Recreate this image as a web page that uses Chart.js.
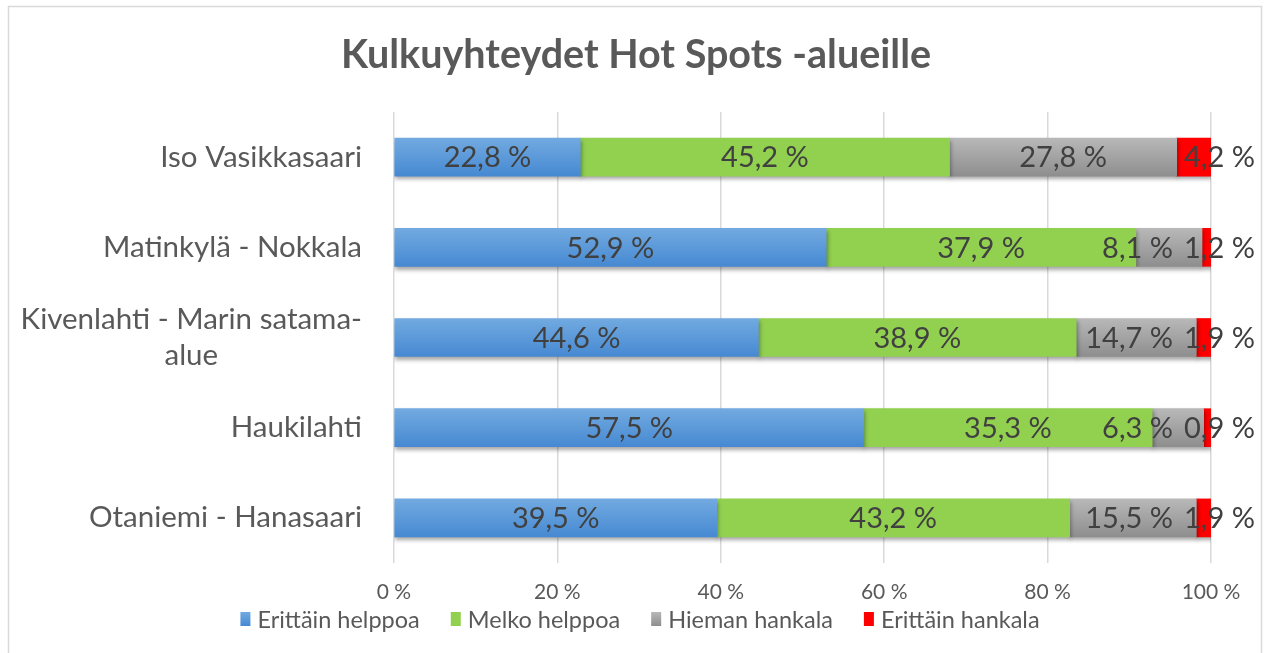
<!DOCTYPE html>
<html>
<head>
<meta charset="utf-8">
<script src="https://cdn.jsdelivr.net/npm/chart.js@4"></script>
<style>
  body { margin: 0; background: #fff; }
  #wrap { width: 1264px; height: 653px; position: relative; }
</style>
</head>
<body>
<div id="wrap"><canvas id="myChart"></canvas></div>
<script>
// data
var categories = ['Iso Vasikkasaari', 'Matinkylä - Nokkala', ['Kivenlahti - Marin satama-', 'alue'], 'Haukilahti', 'Otaniemi - Hanasaari'];
var seriesNames = ['Erittäin helppoa', 'Melko helppoa', 'Hieman hankala', 'Erittäin hankala'];
var erittainHelppoa = [22.8, 52.9, 44.6, 57.5, 39.5];
var melkoHelppoa = [45.2, 37.9, 38.9, 35.3, 43.2];
var hiemanHankala = [27.8, 8.1, 14.7, 6.3, 15.5];
var erittainHankala = [4.2, 1.2, 1.9, 0.9, 1.9];
var xTicks = [0, 20, 40, 60, 80, 100];

var FONT = 'Lato, "Open Sans", sans-serif';
var BAR = 38;

// vertical gradient per bar (blue and grey bars are shaded)
function gradFill(top, bottom) {
  return function(c) {
    var chart = c.chart;
    if (!chart.chartArea || c.type !== 'data') return bottom;
    var y = chart.scales.y.getPixelForValue(c.dataIndex);
    var g = chart.ctx.createLinearGradient(0, y - BAR / 2, 0, y + BAR / 2);
    g.addColorStop(0, top);
    g.addColorStop(1, bottom);
    return g;
  };
}

var colors = [
  ['#72aae0', '#4689d2'],
  ['#92d050', '#92d050'],
  ['#b8b8b8', '#8e8e8e'],
  ['#ff0000', '#ff0000']
];

function fmt(v) {
  return v.toFixed(1).replace('.', ',') + ' %';
}

// border, shadows, value labels, category labels, legend
var decorations = {
  id: 'decorations',
  beforeDraw: function(chart) {
    var ctx = chart.ctx;
    ctx.save();
    ctx.strokeStyle = '#d9d9d9';
    ctx.lineWidth = 1.5;
    ctx.strokeRect(8.5, 6.5, 1253, 700);
    ctx.restore();
  },
  beforeDatasetsDraw: function(chart) {
    var ctx = chart.ctx;
    ctx.save();
    ctx.shadowColor = 'rgba(0,0,0,0.35)';
    ctx.shadowBlur = 4;
    ctx.shadowOffsetX = 1;
    ctx.shadowOffsetY = 3;
  },
  afterDatasetsDraw: function(chart) {
    var ctx = chart.ctx;
    ctx.restore();

    // values in each segment; the small end ones sit past the bar end
    // and the neighbours move left so they do not overlap
    ctx.save();
    ctx.font = '29px ' + FONT;
    ctx.fillStyle = '#404040';
    ctx.textAlign = 'left';
    ctx.textBaseline = 'middle';
    var n = chart.data.datasets.length;
    categories.forEach(function(cat, i) {
      var limit = Infinity;
      for (var d = n - 1; d >= 0; d--) {
        var el = chart.getDatasetMeta(d).data[i];
        var txt = fmt(chart.data.datasets[d].data[i]);
        var w = ctx.measureText(txt).width;
        var left = (el.x + el.base) / 2 - w / 2;
        if (d === n - 1) left = chart.chartArea.right - 27;
        if (left + w > limit - 11) left = limit - 11 - w;
        ctx.fillText(txt, left, el.y + 1);
        limit = left;
      }
    });
    ctx.restore();
  },
  afterDraw: function(chart) {
    var ctx = chart.ctx;
    var yScale = chart.scales.y;

    // category labels, multi-line ones centred on their widest line
    ctx.save();
    ctx.font = '29.5px ' + FONT;
    ctx.fillStyle = '#595959';
    ctx.textBaseline = 'middle';
    var right = chart.chartArea.left - 32;
    categories.forEach(function(lab, i) {
      var y = yScale.getPixelForValue(i);
      var lines = Array.isArray(lab) ? lab : [lab];
      var w = 0;
      lines.forEach(function(l) { w = Math.max(w, ctx.measureText(l).width); });
      ctx.textAlign = lines.length > 1 ? 'center' : 'right';
      var x = lines.length > 1 ? right - w / 2 : right;
      lines.forEach(function(l, k) {
        ctx.fillText(l, x, y + (k - (lines.length - 1) / 2) * 36);
      });
    });
    ctx.restore();

    // legend
    ctx.save();
    ctx.font = '23.5px ' + FONT;
    ctx.textBaseline = 'middle';
    ctx.textAlign = 'left';
    var bw = 10, bh = 14, gap = 7, space = 31, ly = 619;
    var total = 0;
    seriesNames.forEach(function(name, k) {
      total += bw + gap + ctx.measureText(name).width + (k ? space : 0);
    });
    var lx = 640 - total / 2;
    seriesNames.forEach(function(name, k) {
      var g = ctx.createLinearGradient(0, ly - bh / 2, 0, ly + bh / 2);
      g.addColorStop(0, colors[k][0]);
      g.addColorStop(1, colors[k][1]);
      ctx.fillStyle = g;
      ctx.fillRect(lx, ly - bh / 2, bw, bh);
      ctx.fillStyle = '#595959';
      ctx.fillText(name, lx + bw + gap, ly + 1);
      lx += bw + gap + ctx.measureText(name).width + space;
    });
    ctx.restore();
  }
};

var seriesValues = [erittainHelppoa, melkoHelppoa, hiemanHankala, erittainHankala];

var graph = document.getElementById('myChart');

var myChart = new Chart(graph, {
  type: 'bar',
  data: {
    labels: categories,
    datasets: seriesNames.map(function(name, k) {
      return {
        label: name,
        data: seriesValues[k],
        backgroundColor: gradFill(colors[k][0], colors[k][1]),
        borderWidth: 0,
        barThickness: BAR
      };
    })
  },
  options: {
    indexAxis: 'y',
    responsive: true,
    maintainAspectRatio: false,
    animation: false,
    layout: { padding: { left: 61, right: 53, top: 6, bottom: 49 } },
    plugins: {
      legend: { display: false },
      tooltip: { enabled: false },
      title: {
        display: true,
        text: 'Kulkuyhteydet Hot Spots -alueille',
        color: '#595959',
        font: { family: FONT, size: 39.5, weight: 'bold' },
        padding: { top: 25.3, bottom: 33.3 }
      }
    },
    scales: {
      x: {
        stacked: true,
        min: 0,
        max: 100,
        afterBuildTicks: function(scale) {
          scale.ticks = xTicks.map(function(v) { return { value: v }; });
        },
        afterFit: function(scale) { scale.height = 41; },
        grid: { color: '#d9d9d9', lineWidth: 1.5, drawTicks: false },
        border: { display: false },
        ticks: {
          padding: 17,
          color: '#595959',
          font: { family: FONT, size: 21 },
          callback: function(v) { return v + ' %'; }
        }
      },
      y: {
        stacked: true,
        afterFit: function(scale) { scale.width = 333; },
        grid: { display: false },
        border: { display: false },
        ticks: { display: false }
      }
    }
  },
  plugins: [decorations]
});
</script>
</body>
</html>
